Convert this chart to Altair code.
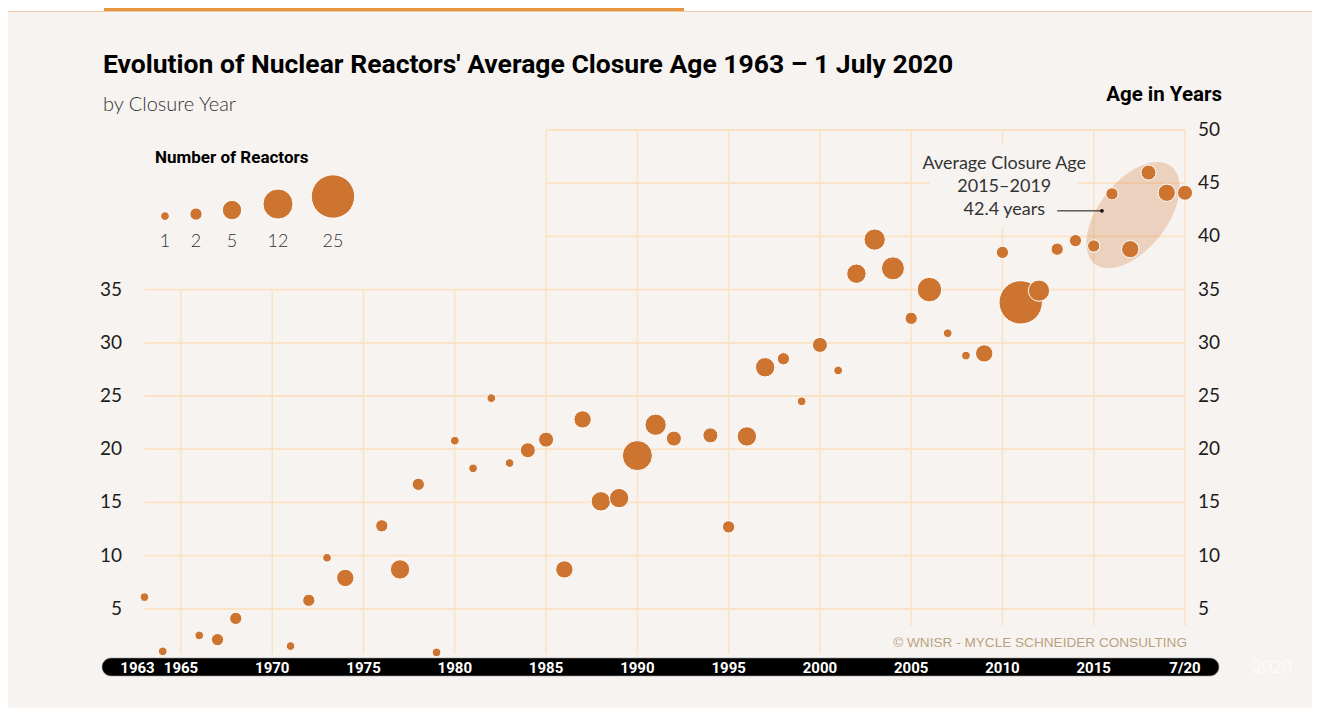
import altair as alt
import pandas as pd

# ---------------- data ----------------
closure_years = [1963, 1964, 1966, 1967, 1968, 1971, 1972, 1973, 1974, 1976, 1977, 1978, 1979,
                 1980, 1981, 1982, 1983, 1984, 1985, 1986, 1987, 1988, 1989, 1990, 1991, 1992,
                 1994, 1995, 1996, 1997, 1998, 1999, 2000, 2001, 2002, 2003, 2004, 2005, 2006,
                 2007, 2008, 2009, 2010, 2011, 2012, 2013, 2014, 2015, 2016, 2017, 2018, 2019, 2020]
avg_closure_age = [6.1, 1.0, 2.5, 2.1, 4.1, 1.5, 5.8, 9.8, 7.9, 12.8, 8.7, 16.7, 0.9,
                   20.8, 18.2, 24.8, 18.7, 19.9, 20.9, 8.7, 22.8, 15.1, 15.4, 19.4, 22.3, 21.0,
                   21.3, 12.7, 21.2, 27.7, 28.5, 24.5, 29.8, 27.4, 36.5, 39.7, 37.0, 32.3, 35.0,
                   30.9, 28.8, 29.0, 38.5, 33.8, 34.9, 38.8, 39.6, 39.1, 44.0, 38.8, 46.0, 44.1, 44.1]
n_reactors = [1, 1, 1, 2, 2, 1, 2, 1, 4, 2, 5, 2, 1,
              1, 1, 1, 1, 3, 3, 4, 4, 5, 5, 12, 6, 3,
              3, 2, 5, 5, 2, 1, 3, 1, 5, 6, 7, 2, 8,
              1, 1, 4, 2, 25, 6, 2, 2, 2, 2, 4, 3, 4, 3]

legend_counts = [1, 2, 5, 12, 25]
grid_years = [1965, 1970, 1975, 1980, 1985, 1990, 1995, 2000, 2005, 2010, 2015, 2020]
grid_ages = [5, 10, 15, 20, 25, 30, 35, 40, 45, 50]
left_tick_ages = [5, 10, 15, 20, 25, 30, 35]
right_tick_ages = [5, 10, 15, 20, 25, 30, 35, 40, 45, 50]
bar_years = [1965, 1970, 1975, 1980, 1985, 1990, 1995, 2000, 2005, 2010, 2015, 2020]
bar_labels = ["1965", "1970", "1975", "1980", "1985", "1990", "1995", "2000", "2005",
              "2010", "2015", "7/20"]
first_year = [1963]
first_label = ["1963"]

avg_lines = ["Average Closure Age", "2015\u20132019", "42.4 years"]
avg_value = 42.4

TITLE = "Evolution of Nuclear Reactors' Average Closure Age 1963 \u2013 1 July 2020"
SUBTITLE = "by Closure Year"
Y_TITLE = "Age in Years"
LEGEND_TITLE = "Number of Reactors"
CREDIT = "\u00a9 WNISR - MYCLE SCHNEIDER CONSULTING"

# ---------------- style ----------------
BG = "#f7f3f1"
DOT = "#cc7430"
GRID = "#fbe2c2"
TXT = "#1c1c1c"
BOLD = "Roboto, sans-serif"
LIGHT = "Lato, Roboto, sans-serif"

W, H = 1304, 700
X = alt.Scale(domain=[1965, 2020], range=[173, 1177], nice=False, zero=False)
Y = alt.Scale(domain=[0, 50], range=[654, 122], nice=False, zero=False)
S = alt.Scale(domain=[0, 25], range=[0, 1885], zero=True)


def xq(field, **kw):
    return alt.X(field, type="quantitative", scale=X, axis=None, **kw)


def yq(field, **kw):
    return alt.Y(field, type="quantitative", scale=Y, axis=None, **kw)


# ---------------- tables ----------------
pts = pd.DataFrame({"year": closure_years, "age": avg_closure_age, "n": n_reactors})
vgrid = pd.DataFrame({
    "year": grid_years,
    "top": [35 if y < 1985 else 50 for y in grid_years],
    "bot": [0.75 if y < 2005 else 3.4 for y in grid_years],
})
hgrid = pd.DataFrame({
    "age": grid_ages,
    "x0": [1963 if a <= 35 else 1985 for a in grid_ages],
    "x1": [2020] * len(grid_ages),
})
left_df = pd.DataFrame({"age": left_tick_ages})
right_df = pd.DataFrame({"age": right_tick_ages})
bar_df = pd.DataFrame({"year": bar_years, "label": bar_labels})
first_df = pd.DataFrame({"year": first_year, "label": first_label})
ann_df = pd.DataFrame({"line": avg_lines, "age": [46.85, 44.65, 42.5], "year": [2010.1] * 3})
ann_bg = pd.DataFrame({"x0": [2006.0], "x1": [2014.1], "y0": [40.85], "y1": [48.7]})
ptr_df = pd.DataFrame({"x0": [2013.0], "x1": [2015.45], "age": [avg_value]})

layers = []

# top header strip
layers.append(alt.Chart(pd.DataFrame({"k": [0]})).mark_rect(color="white").encode(
    x=alt.value(0), x2=alt.value(W), y=alt.value(0), y2=alt.value(3)))
layers.append(alt.Chart(pd.DataFrame({"k": [0]})).mark_rect(color="#e8953f").encode(
    x=alt.value(96), x2=alt.value(676), y=alt.value(0), y2=alt.value(3.5)))
layers.append(alt.Chart(pd.DataFrame({"k": [0]})).mark_rule(color="#ecc9a6", strokeWidth=1).encode(
    x=alt.value(0), x2=alt.value(W), y=alt.value(3.5)))

# grid
layers.append(alt.Chart(vgrid).mark_rule(color=GRID, strokeWidth=1.5).encode(
    x=xq("year"), y=yq("top"), y2="bot"))
layers.append(alt.Chart(hgrid).mark_rule(color=GRID, strokeWidth=1.8).encode(
    y=yq("age"), x=xq("x0"), x2="x1"))

# annotation background (hides grid behind the text)
layers.append(alt.Chart(ann_bg).mark_rect(color=BG).encode(
    x=xq("x0"), x2="x1", y=yq("y0"), y2="y1"))

# highlight ellipse 2015-2019
ELLIPSE = "M -1 0 A 1 0.55 0 1 0 1 0 A 1 0.55 0 1 0 -1 0 Z"
layers.append(alt.Chart(pd.DataFrame({"year": [2017.15], "age": [42.0]})).mark_point(
    shape=ELLIPSE, filled=True, color=DOT, opacity=0.26, strokeWidth=0, angle=308, size=15376
).encode(x=xq("year"), y=yq("age")))

# bubbles
layers.append(alt.Chart(pts).mark_circle(color=DOT, opacity=1, stroke="white", strokeWidth=1).encode(
    x=xq("year"), y=yq("age"),
    size=alt.Size("n:Q", scale=S, legend=None)))

# annotation
layers.append(alt.Chart(ann_df).mark_text(font=LIGHT, fontSize=18, color="#333333",
                                          align="center", baseline="middle").encode(
    x=xq("year"), y=yq("age"), text="line:N"))
layers.append(alt.Chart(ptr_df).mark_rule(color="#111111", strokeWidth=1).encode(
    x=xq("x0"), x2="x1", y=yq("age")))
layers.append(alt.Chart(ptr_df).mark_circle(color="#111111", size=14, opacity=1).encode(
    x=xq("x1"), y=yq("age")))

# y labels
layers.append(alt.Chart(left_df).mark_text(font=LIGHT, fontSize=19, color=TXT, align="right",
                                           baseline="middle").encode(
    x=alt.value(114), y=yq("age"), text="age:Q"))
layers.append(alt.Chart(right_df).mark_text(font=LIGHT, fontSize=19, color=TXT, align="left",
                                            baseline="middle").encode(
    x=alt.value(1190), y=yq("age"), text="age:Q"))

# bottom pill axis
layers.append(alt.Chart(pd.DataFrame({"k": [0]})).mark_rect(color="black", cornerRadius=9,
                                                              stroke="#9a9a9a", strokeWidth=0.6).encode(
    x=alt.value(94), x2=alt.value(1211), y=alt.value(650), y2=alt.value(668)))
layers.append(alt.Chart(bar_df).mark_text(font="Roboto", fontWeight="bold", fontSize=15, color="white",
                                          align="center", baseline="middle").encode(
    x=xq("year"), y=alt.value(660), text="label:N"))
layers.append(alt.Chart(first_df).mark_text(font="Roboto", fontWeight="bold", fontSize=15, color="white",
                                            align="center", baseline="middle", dx=-7).encode(
    x=xq("year"), y=alt.value(660), text="label:N"))
layers.append(alt.Chart(pd.DataFrame({"t": ["2020"]})).mark_text(
    font=LIGHT, fontSize=17, color="#fdfbfa", align="center", baseline="middle").encode(
    x=alt.value(1264), y=alt.value(660), text="t:N"))

# credit
layers.append(alt.Chart(pd.DataFrame({"t": [CREDIT]})).mark_text(
    font="Liberation Sans, DejaVu Sans, sans-serif", fontSize=13.6, color="#b9a37f", align="right",
    baseline="alphabetic").encode(
    x=alt.value(1179), y=alt.value(639), text="t:N"))

# titles
layers.append(alt.Chart(pd.DataFrame({"t": [TITLE]})).mark_text(
    font=BOLD, fontWeight="bold", fontSize=26.5, color="black", align="left", baseline="alphabetic").encode(
    x=alt.value(95), y=alt.value(65), text="t:N"))
layers.append(alt.Chart(pd.DataFrame({"t": [SUBTITLE]})).mark_text(
    font=LIGHT, fontWeight=300, fontSize=20, color="#333333", align="left", baseline="alphabetic").encode(
    x=alt.value(95), y=alt.value(103), text="t:N"))
layers.append(alt.Chart(pd.DataFrame({"t": [Y_TITLE]})).mark_text(
    font=BOLD, fontWeight="bold", fontSize=20.5, color="black", align="right", baseline="alphabetic").encode(
    x=alt.value(1214), y=alt.value(93), text="t:N"))

# legend
layers.append(alt.Chart(pd.DataFrame({"t": [LEGEND_TITLE]})).mark_text(
    font=BOLD, fontWeight="bold", fontSize=17, color="black", align="left", baseline="alphabetic").encode(
    x=alt.value(147), y=alt.value(155), text="t:N"))
legend_x = [157, 188, 224, 270, 325]
for cnt, lx in zip(legend_counts, legend_x):
    r = (75.4 * cnt / 3.14159) ** 0.5
    layers.append(alt.Chart(pd.DataFrame({"n": [cnt]})).mark_circle(
        color=DOT, opacity=1, stroke="white", strokeWidth=1).encode(
        x=alt.value(lx), y=alt.value(213 - r), size=alt.Size("n:Q", scale=S, legend=None)))
    layers.append(alt.Chart(pd.DataFrame({"t": [str(cnt)]})).mark_text(
        font=LIGHT, fontWeight=300, fontSize=18, color="#333333", align="center",
        baseline="alphabetic").encode(x=alt.value(lx), y=alt.value(239), text="t:N"))

chart = alt.layer(*layers).properties(
    width=W, height=H, background=BG, padding=0,
    autosize=alt.AutoSizeParams(type="none"),
).configure_view(stroke=None)

chart.save("out.html", embed_options={"renderer": "svg", "actions": False})
